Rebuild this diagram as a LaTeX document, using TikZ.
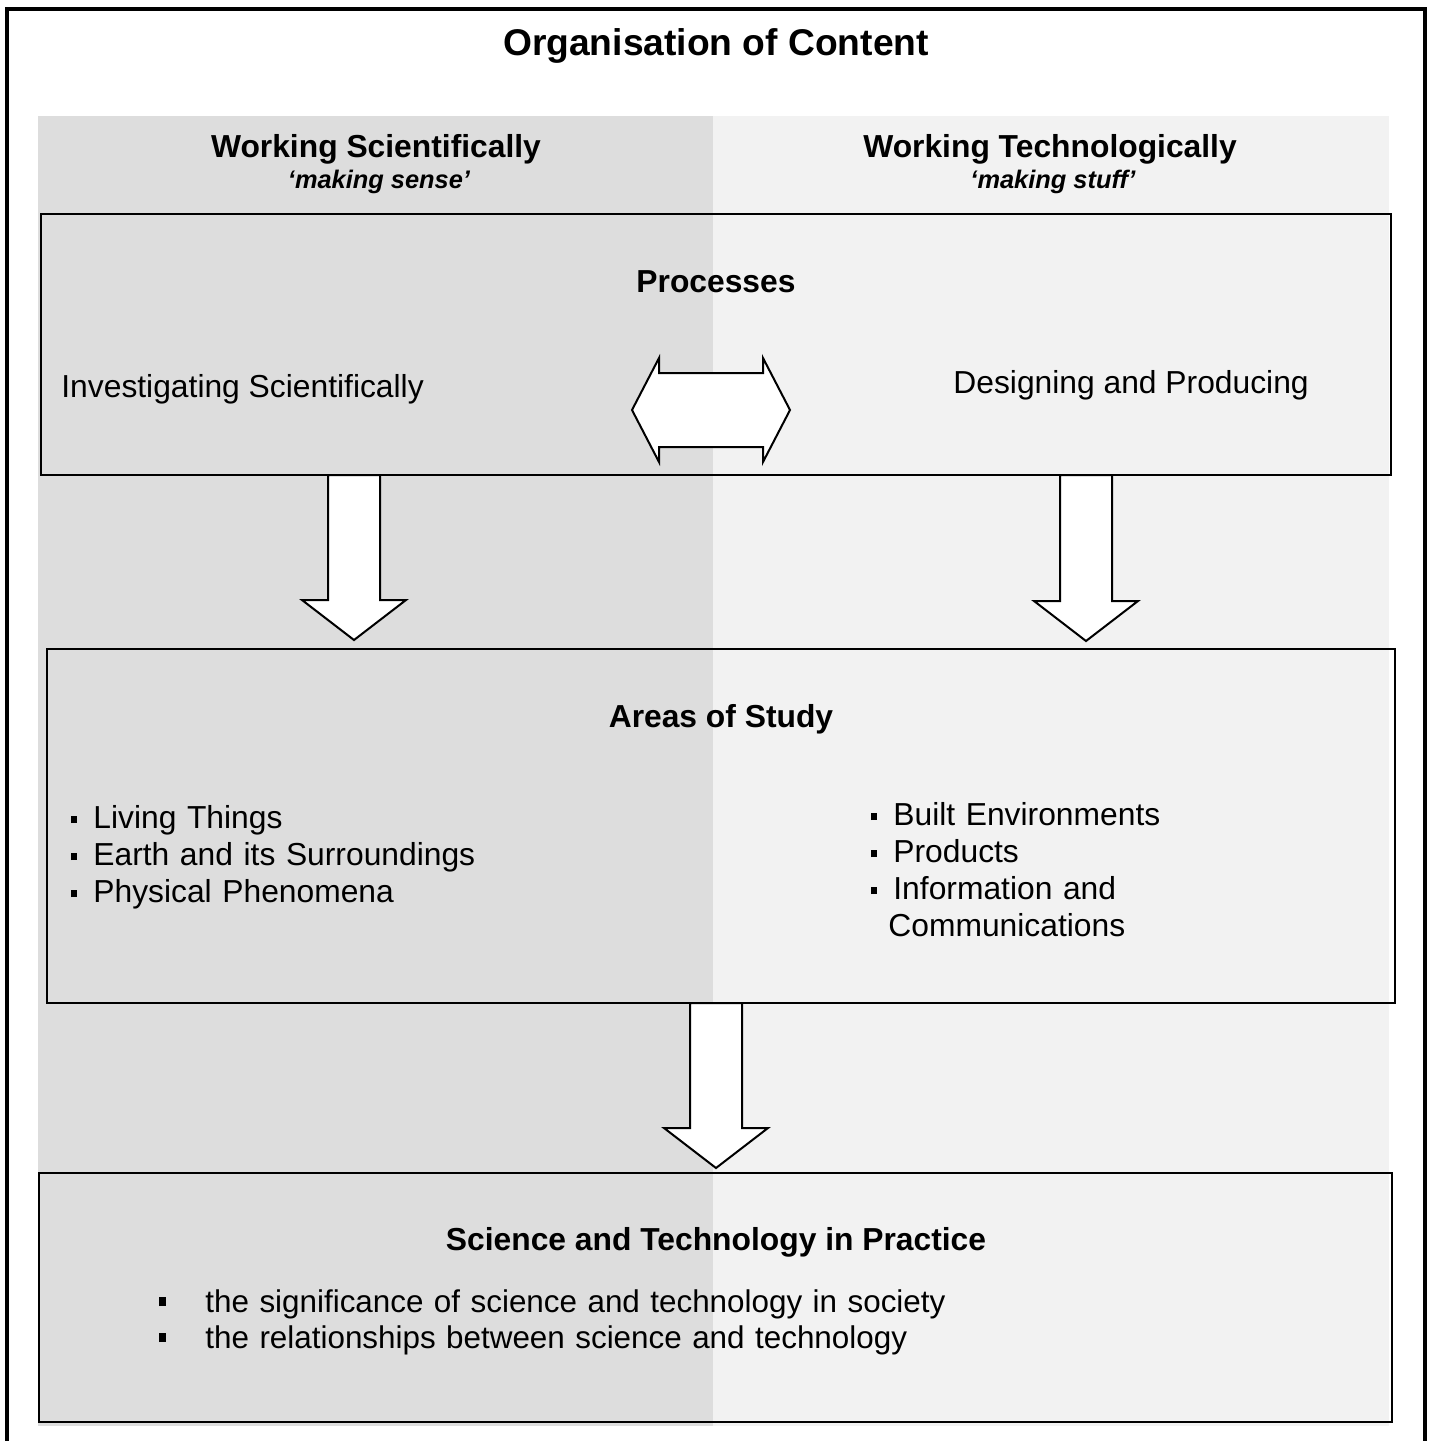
\documentclass[tikz,border=0pt]{standalone}
\usepackage{fontspec}
\setmainfont{Liberation Sans}
\usetikzlibrary{fit}

\definecolor{sciGray}{HTML}{DDDDDD}
\definecolor{techGray}{HTML}{F2F2F2}

\newcommand{\smallbul}{\makebox[11pt][l]{\rule[2.5pt]{3pt}{3.5pt}}}
\newcommand{\bigbul}{\makebox[23pt][l]{\rule[3pt]{3.5pt}{4.5pt}}}

% fat arrow pointing down, from #1 to #2
\newcommand{\fatdown}[2]{%
  \draw[fatarrow] ([xshift=-13pt]#1) -- ([xshift=-13pt,yshift=20pt]#2) -- ([xshift=-26pt,yshift=20pt]#2) -- (#2)
    -- ([xshift=26pt,yshift=20pt]#2) -- ([xshift=13pt,yshift=20pt]#2) -- ([xshift=13pt]#1) -- cycle;}

\tikzset{
  panel/.style={draw, line width=1pt, inner sep=0pt, outer sep=0pt},
  fatarrow/.style={draw, line width=1pt, fill=white, line join=miter},
  body/.style={inner sep=0pt, font=\fontsize{15.9}{18.5}\selectfont},
  head/.style={inner sep=0pt, font=\fontsize{15.9}{18.5}\selectfont\bfseries},
  motto/.style={inner sep=0pt, font=\fontsize{12.7}{15}\selectfont\bfseries\itshape}
}

\begin{document}
\begin{tikzpicture}[x=0.5pt, y=-0.5pt]
\useasboundingbox (0,0) rectangle (1434,1441);
% the two halves
\fill[sciGray] (38,116) rectangle (713,1426);
\fill[techGray] (713,116) rectangle (1389,1426);
\draw[line width=2pt] (7,1445) -- (7,9) -- (1425,9) -- (1425,1445);

\node[inner sep=0pt, font=\fontsize{18.6}{22}\selectfont\bfseries, anchor=base] (title) at (716,55) {Organisation of Content};

\node[head, anchor=base] (sci) at (376,157) {Working Scientifically};
\node[motto, anchor=base] (sciMotto) at (379,188) {‘making sense’};
\node[head, anchor=base] (tech) at (1050,157) {Working Technologically};
\node[motto, anchor=base] (techMotto) at (1053,188) {‘making stuff’};

% processes
\node[panel, fit={(41,214) (1391,475)}] (proc) {};
\node[head, anchor=base] (procTitle) at (716,292) {Processes};
\node[body, anchor=base west] (invest) at (61,397) {Investigating Scientifically};
\node[body, anchor=base west] (design) at (953,393) {Designing and Producing};
\coordinate (swap) at (711,410);
\draw[fatarrow] (swap) ++(-79,0) -- ++(27,-52) -- ++(0,15) -- ++(104,0) -- ++(0,-15) -- ++(27,52)
  -- ++(-27,52) -- ++(0,-15) -- ++(-104,0) -- ++(0,15) -- cycle;

% areas of study
\node[panel, fit={(47,649) (1395,1003)}] (areas) {};
\node[head, anchor=base] (areasTitle) at (721,727) {Areas of Study};
\node[body, anchor=base west, text width=300pt, align=left] (sciList) at (71,828)
  {\smallbul Living Things\\ \smallbul Earth and its Surroundings\\ \smallbul Physical Phenomena};
\node[body, anchor=base west, text width=200pt, align=left] (techList) at (871,825)
  {\smallbul Built Environments\\ \smallbul Products\\ \smallbul Information and\\ \hspace*{8.5pt}Communications};

% in practice
\node[panel, fit={(39,1173) (1392,1422)}] (prac) {};
\node[head, anchor=base] (pracTitle) at (716,1250) {Science and Technology in Practice};
\node[body, anchor=base west, text width=450pt, align=left, font=\fontsize{15.7}{18}\selectfont] (pracList) at (159,1312)
  {\bigbul the significance of science and technology in society\\ \bigbul the relationships between science and technology};

% fat arrows between the boxes
\coordinate (tipSci) at (354,640);
\coordinate (tipTech) at (1086,641);
\coordinate (tipPrac) at (716,1168);
\coordinate (tailSci) at (tipSci |- proc.south);
\coordinate (tailTech) at (tipTech |- proc.south);
\coordinate (tailPrac) at (tipPrac |- areas.south);
\fatdown{tailSci}{tipSci}
\fatdown{tailTech}{tipTech}
\fatdown{tailPrac}{tipPrac}
\end{tikzpicture}
\end{document}
